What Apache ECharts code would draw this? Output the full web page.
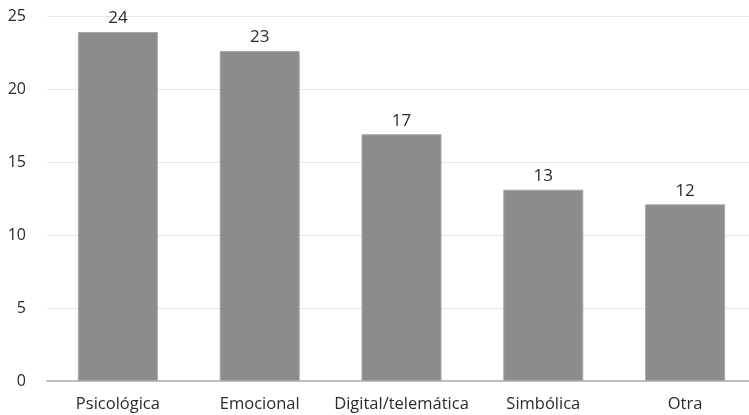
<!DOCTYPE html>
<html><head><meta charset="utf-8">
<script src="https://cdn.jsdelivr.net/npm/echarts@6/dist/echarts.min.js"></script>
<style>html,body{margin:0;padding:0;background:#fff;overflow:hidden}#c{width:756px;height:415px}</style>
</head><body><div id="c"></div>
<script>
const categories = ['Psicológica', 'Emocional', 'Digital/telemática', 'Simbólica', 'Otra'];
const values = [23.9, 22.6, 16.9, 13.1, 12.1];
const yTicks = [0, 5, 10, 15, 20, 25];

const chart = echarts.init(document.getElementById('c'));
chart.setOption({
  animation: false,
  grid: { left: 47, top: 16, right: 0, bottom: 34, containLabel: false },
  xAxis: {
    type: 'category', data: categories,
    axisLine: { lineStyle: { color: '#bfbfbf', width: 2 } },
    axisTick: { show: false },
    axisLabel: { interval: 0, color: '#2b2b2b', fontFamily: 'Open Sans', fontSize: 16.5, margin: 15 }
  },
  yAxis: {
    type: 'value', min: yTicks[0], max: yTicks[yTicks.length - 1], interval: 5,
    axisLine: { show: false }, axisTick: { show: false },
    splitLine: { lineStyle: { color: '#e6e6e6', width: 1 } },
    axisLabel: { color: '#2b2b2b', fontFamily: 'Open Sans', fontSize: 16, margin: 21 }
  },
  series: [{
    type: 'bar', data: values, barWidth: 80,
    itemStyle: { color: '#8c8c8c', borderColor: '#a6a6a6', borderWidth: 1 },
    label: { show: true, position: 'top', distance: 5, color: '#2b2b2b', fontFamily: 'Open Sans', fontSize: 17,
      formatter: p => Math.round(p.value) }
  }]
});
</script></body></html>
